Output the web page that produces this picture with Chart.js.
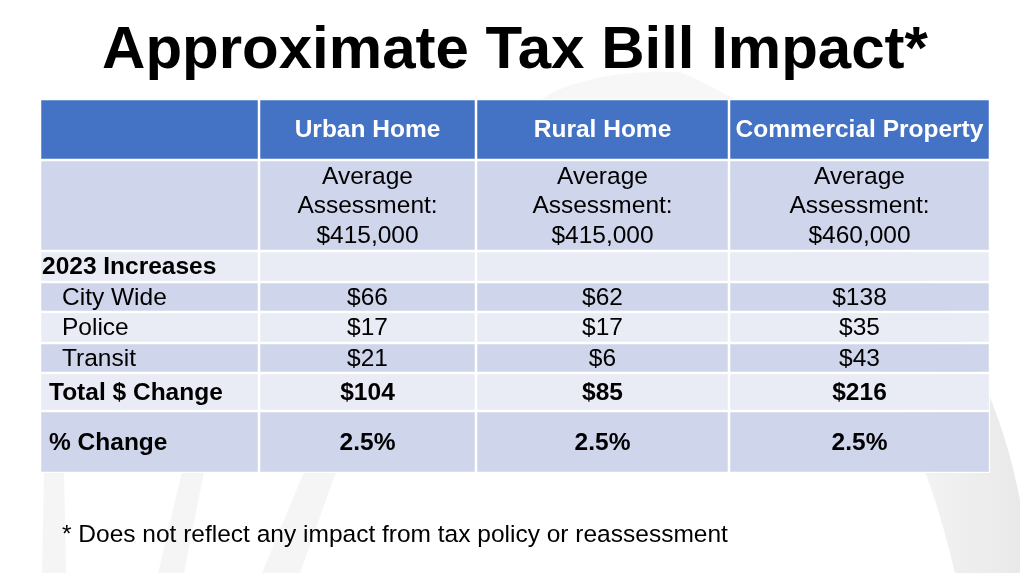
<!DOCTYPE html>
<html>
<head>
<meta charset="utf-8">
<title>Approximate Tax Bill Impact</title>
<script src="https://cdn.jsdelivr.net/npm/chart.js@4.4.1/dist/chart.umd.min.js"></script>
<style>
  html, body { margin: 0; padding: 0; background: #fff; }
  #wrap { width: 1020px; height: 573px; position: relative; }
</style>
</head>
<body>
<div id="wrap"><canvas id="taxTable"></canvas></div>
<script>
// table content
var columns = ["Urban Home", "Rural Home", "Commercial Property"];
var assessments = ["$415,000", "$415,000", "$460,000"];
var cityWide = [66, 62, 138];
var police = [17, 17, 35];
var transit = [21, 6, 43];
var totalChange = [104, 85, 216];
var pctChange = [2.5, 2.5, 2.5];
var rowLabels = ["", "", "2023 Increases", "City Wide", "Police", "Transit", "Total $ Change", "% Change"];

// grid layout (table units; 1 unit = 1px with the padding below)
var colWidths = [219, 217, 253, 261];
var rowHeights = [61, 91, 31, 30, 31, 30, 38, 62];
var rowColors = ["#4472C4", "#CFD5EA", "#E9EBF5", "#CFD5EA", "#E9EBF5", "#CFD5EA", "#E9EBF5", "#CFD5EA"];
var boldRows = [true, false, true, false, false, false, true, true];
var labelIndent = [0, 0, 2, 22, 22, 22, 9, 9];

var FONT = '"Liberation Sans", Arial, sans-serif';

var colStart = [], rowTop = [];
colWidths.reduce(function (acc, w) { colStart.push(acc); return acc + w; }, 0);
rowHeights.reduce(function (acc, h) { rowTop.push(acc); return acc + h; }, 0);
var tableW = colWidths.reduce(function (a, b) { return a + b; }, 0);
var tableH = rowHeights.reduce(function (a, b) { return a + b; }, 0);

function cellLines(r, c) {
  if (c === 0) return rowLabels[r] ? [rowLabels[r]] : [];
  var i = c - 1;
  switch (r) {
    case 0: return [columns[i]];
    case 1: return ["Average", "Assessment:", assessments[i]];
    case 3: return ["$" + cityWide[i]];
    case 4: return ["$" + police[i]];
    case 5: return ["$" + transit[i]];
    case 6: return ["$" + totalChange[i]];
    case 7: return [pctChange[i].toFixed(1) + "%"];
  }
  return [];
}

var datasets = rowHeights.map(function (h, r) {
  return {
    label: rowLabels[r] || (r === 0 ? "Header" : "Assessment"),
    data: colWidths.map(function (w, c) {
      return { x: [colStart[c], colStart[c] + w], y: rowTop[r] + h / 2 };
    }),
    barThickness: h,
    grouped: false,
    backgroundColor: rowColors[r],
    borderColor: "#ffffff",
    borderWidth: 1.25,
    borderSkipped: false,
    inflateAmount: 0
  };
});

// faint slide swooshes behind the table
var backdrop = {
  id: "backdrop",
  beforeDraw: function (chart) {
    var ctx = chart.ctx;
    ctx.save();
    ctx.fillStyle = "#ffffff";
    ctx.fillRect(0, 0, chart.width, chart.height);

    var g = ctx.createLinearGradient(880, 0, 1020, 0);
    g.addColorStop(0, "#f7f7f7");
    g.addColorStop(1, "#e9e9e9");
    ctx.fillStyle = g;
    ctx.beginPath();
    ctx.moveTo(540, 100);
    ctx.bezierCurveTo(570, 80, 620, 70, 680, 72);
    ctx.bezierCurveTo(860, 150, 990, 330, 1020, 500);
    ctx.lineTo(1020, 573);
    ctx.lineTo(955, 573);
    ctx.bezierCurveTo(900, 330, 760, 170, 540, 100);
    ctx.fill();

    ctx.fillStyle = "#f5f5f5";
    [[44, 64, 42, 66], [182, 204, 158, 184], [304, 336, 262, 300]].forEach(function (s) {
      ctx.beginPath();
      ctx.moveTo(s[0], 472);
      ctx.lineTo(s[1], 472);
      ctx.lineTo(s[3], 573);
      ctx.lineTo(s[2], 573);
      ctx.closePath();
      ctx.fill();
    });
    ctx.restore();
  }
};

// cell texts and footnote, placed from the bar elements
var cellText = {
  id: "cellText",
  afterDatasetsDraw: function (chart) {
    var ctx = chart.ctx;
    ctx.save();
    ctx.textBaseline = "middle";
    rowHeights.forEach(function (h, r) {
      var meta = chart.getDatasetMeta(r);
      meta.data.forEach(function (el, c) {
        var lines = cellLines(r, c);
        if (!lines.length) return;
        var left = Math.min(el.base, el.x), right = Math.max(el.base, el.x);
        ctx.font = (boldRows[r] ? "bold " : "") + "24.5px " + FONT;
        ctx.fillStyle = r === 0 ? "#ffffff" : "#000000";
        var x, cy = el.y + 1;
        if (c === 0) { ctx.textAlign = "left"; x = left + labelIndent[r]; }
        else { ctx.textAlign = "center"; x = (left + right) / 2; }
        var step = 29.5;
        lines.forEach(function (t, k) {
          ctx.fillText(t, x, cy + (k - (lines.length - 1) / 2) * step);
        });
      });
    });
    ctx.font = "24.5px " + FONT;
    ctx.fillStyle = "#000000";
    ctx.textAlign = "left";
    ctx.fillText("* Does not reflect any impact from tax policy or reassessment", 62, 535);
    ctx.restore();
  }
};

new Chart("taxTable", {
  type: "bar",
  data: { datasets: datasets },
  plugins: [backdrop, cellText],
  options: {
    indexAxis: "y",
    responsive: true,
    maintainAspectRatio: false,
    animation: false,
    layout: { autoPadding: false, padding: { left: 40, right: 30, top: 0, bottom: 100 } },
    scales: {
      x: { type: "linear", min: 0, max: tableW, offset: false, display: false },
      y: { type: "linear", min: 0, max: tableH, reverse: true, offset: false, display: false }
    },
    plugins: {
      legend: { display: false },
      tooltip: { enabled: false },
      title: {
        display: true,
        text: "Approximate Tax Bill Impact*",
        color: "#000000",
        font: { family: FONT, size: 60, weight: "bold" },
        padding: { top: 15, bottom: 12 }
      }
    }
  }
});
</script>
</body>
</html>
